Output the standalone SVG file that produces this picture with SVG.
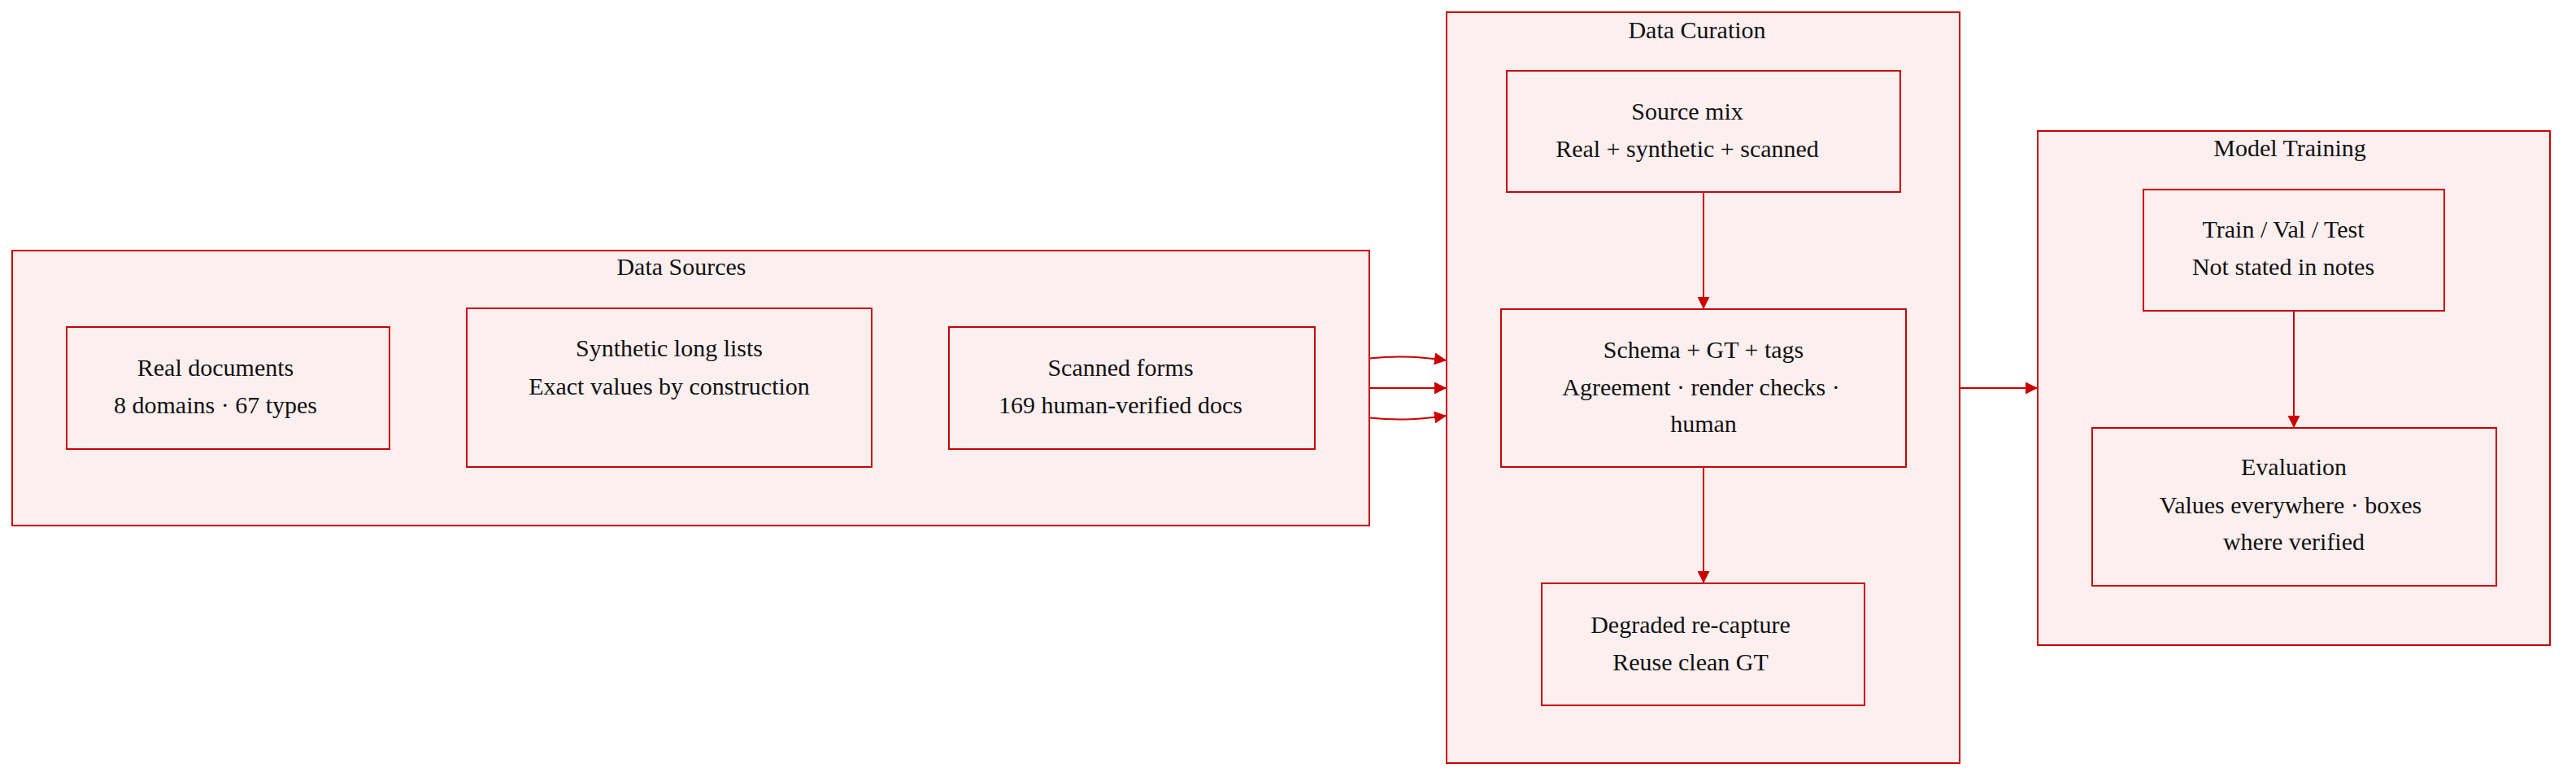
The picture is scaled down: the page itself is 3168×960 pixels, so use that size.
<svg xmlns="http://www.w3.org/2000/svg" width="3168" height="960" viewBox="0 0 3168 960">
<defs>
<style>
.cluster{fill:#fcefef;stroke:#cc0000;stroke-width:2}
.node{fill:#fcefef;stroke:#cc0000;stroke-width:2}
.t{font-family:"Liberation Serif","Times New Roman",serif;font-size:30px;fill:#111;text-anchor:middle}
.edge{fill:none;stroke:#cc0000;stroke-width:2}
</style>
<marker id="arr" markerUnits="userSpaceOnUse" markerWidth="15" markerHeight="15" viewBox="0 0 15 15" refX="15" refY="7.5" orient="auto">
<path d="M0,0 L15,7.5 L0,15 z" fill="#cc0000"/>
</marker>
</defs>
<rect width="3168" height="960" fill="#ffffff"/>

<g id="cluster-data-sources">
<rect class="cluster" x="15" y="308" width="1669" height="338"/>
<text class="t" x="838" y="338">Data Sources</text>
</g>
<g id="cluster-data-curation">
<rect class="cluster" x="1779" y="15" width="631" height="923"/>
<text class="t" x="2087" y="47">Data Curation</text>
</g>
<g id="cluster-model-training">
<rect class="cluster" x="2506" y="161" width="630" height="632"/>
<text class="t" x="2816" y="192">Model Training</text>
</g>

<g id="edges">
<path class="edge" d="M1684,440.5 C1722,436.5 1750,439 1779,443" marker-end="url(#arr)"/>
<path class="edge" d="M1684,477 L1779,477" marker-end="url(#arr)"/>
<path class="edge" d="M1684,513.5 C1722,517.5 1750,515 1779,511" marker-end="url(#arr)"/>
<path class="edge" d="M2095,236 L2095,380" marker-end="url(#arr)"/>
<path class="edge" d="M2095,574 L2095,717" marker-end="url(#arr)"/>
<path class="edge" d="M2410,477 L2506,477" marker-end="url(#arr)"/>
<path class="edge" d="M2821,382 L2821,526" marker-end="url(#arr)"/>
</g>

<g id="node-real-documents">
<rect class="node" x="82" y="402" width="397" height="150"/>
<text class="t" x="265" y="462">Real documents</text>
<text class="t" x="265" y="508">8 domains · 67 types</text>
</g>
<g id="node-synthetic">
<rect class="node" x="574" y="379" width="498" height="195"/>
<text class="t" x="823" y="438">Synthetic long lists</text>
<text class="t" x="823" y="485">Exact values by construction</text>
</g>
<g id="node-scanned">
<rect class="node" x="1167" y="402" width="450" height="150"/>
<text class="t" x="1378" y="462">Scanned forms</text>
<text class="t" x="1378" y="508">169 human-verified docs</text>
</g>

<g id="node-source-mix">
<rect class="node" x="1853" y="87" width="484" height="149"/>
<text class="t" x="2075" y="147">Source mix</text>
<text class="t" x="2075" y="193">Real + synthetic + scanned</text>
</g>
<g id="node-schema">
<rect class="node" x="1846" y="380" width="498" height="194"/>
<text class="t" x="2095" y="440">Schema + GT + tags</text>
<text class="t" x="2092" y="486">Agreement · render checks ·</text>
<text class="t" x="2095" y="531">human</text>
</g>
<g id="node-degraded">
<rect class="node" x="1896" y="717" width="397" height="150"/>
<text class="t" x="2079" y="778">Degraded re-capture</text>
<text class="t" x="2079" y="824">Reuse clean GT</text>
</g>

<g id="node-split">
<rect class="node" x="2636" y="233" width="370" height="149"/>
<text class="t" x="2808" y="292">Train / Val / Test</text>
<text class="t" x="2808" y="338">Not stated in notes</text>
</g>
<g id="node-evaluation">
<rect class="node" x="2573" y="526" width="497" height="194"/>
<text class="t" x="2821" y="584">Evaluation</text>
<text class="t" x="2817" y="631">Values everywhere · boxes</text>
<text class="t" x="2821" y="676">where verified</text>
</g>
</svg>
